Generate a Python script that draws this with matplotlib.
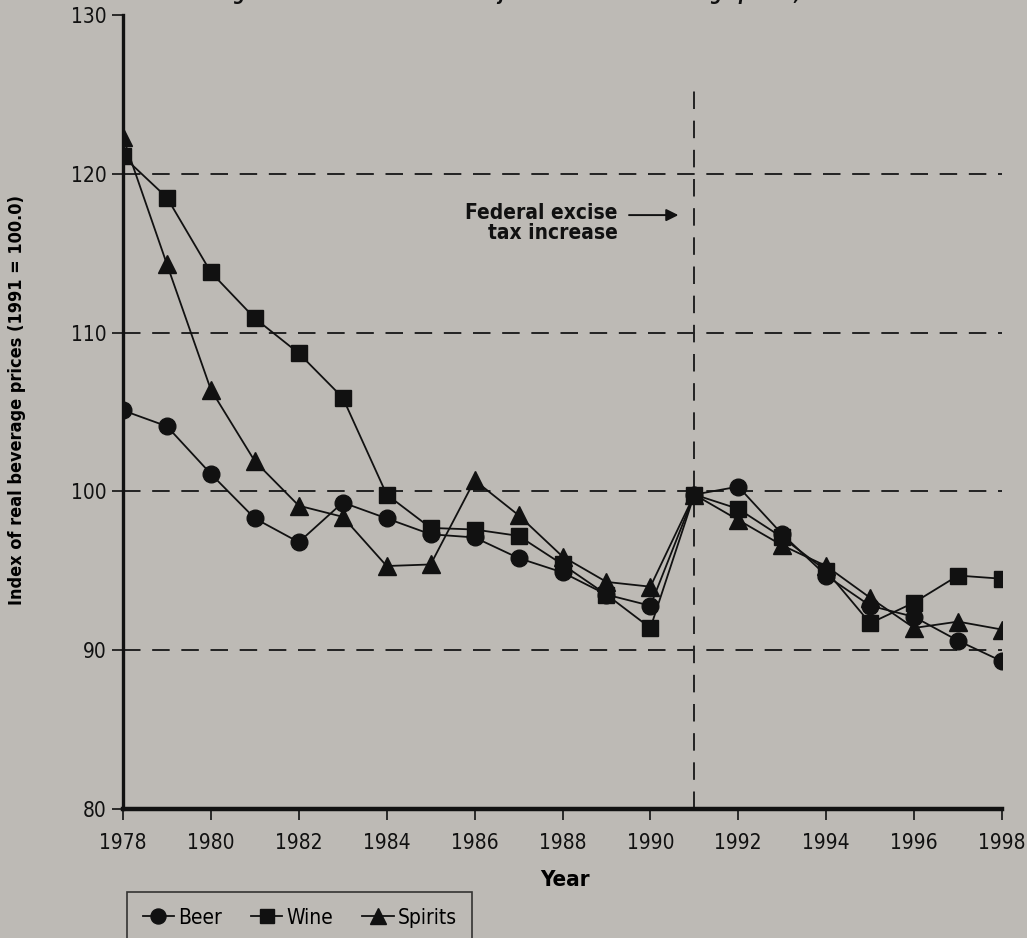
import numpy as np
import matplotlib.pyplot as plt

# condensed DejaVu is the narrowest face we have
plt.rcParams['font.family'] = ['DejaVu Sans']
plt.rcParams['font.stretch'] = 'condensed'

years = np.arange(1978, 1999)
beer = [105.1, 104.1, 101.1, 98.3, 96.8, 99.3, 98.3, 97.3, 97.1, 95.8, 94.9,
        93.5, 92.8, 99.8, 100.3, 97.3, 94.7, 92.8, 92.1, 90.6, 89.3]
wine = [121.1, 118.5, 113.8, 110.9, 108.7, 105.9, 99.8, 97.7, 97.6, 97.2, 95.4,
        93.5, 91.4, 99.8, 98.9, 97.1, 95.0, 91.7, 93.0, 94.7, 94.5]
spirits = [122.3, 114.3, 106.4, 101.9, 99.1, 98.4, 95.3, 95.4, 100.7, 98.5, 95.9,
           94.3, 94.0, 99.8, 98.2, 96.6, 95.3, 93.3, 91.4, 91.8, 91.3]
grid_levels = [90, 100, 110, 120]
tax_year = 1991

bg = '#bdbab5'
ink = '#111111'
fig = plt.figure(figsize=(10.27, 9.38), dpi=100, facecolor=bg)
ax = fig.add_axes([123/1027, 1 - 809/938, (1002 - 123)/1027, (809 - 15)/938])
ax.set_facecolor(bg)

# dashed reference lines
for g in grid_levels:
    ax.plot([1978, 1998], [g, g], color='#222222', lw=1.4, ls=(0, (9, 6)), zorder=1)
ax.plot([tax_year, tax_year], [80, 125.8], color='#222222', lw=1.4,
        ls=(0, (9, 6)), zorder=1, clip_on=False)

ax.plot(years, beer, color=ink, lw=1.3, marker='o', ms=12, label='Beer', zorder=3)
ax.plot(years, wine, color=ink, lw=1.3, marker='s', ms=11, label='Wine', zorder=3)
ax.plot(years, spirits, color=ink, lw=1.3, marker='^', ms=13, label='Spirits', zorder=3)

ax.set_xlim(1978, 1998)
ax.set_ylim(80, 130)
ax.set_xticks(np.arange(1978, 1999, 2))
ax.set_yticks([80, 90, 100, 110, 120, 130])
ax.tick_params(axis='both', labelsize=15, color=ink, labelcolor=ink)
ax.tick_params(axis='y', direction='out', length=8, width=1.2, pad=4)
ax.tick_params(axis='x', direction='out', length=8, width=1.2, pad=9)
for s in ['top', 'right']:
    ax.spines[s].set_visible(False)
ax.spines['left'].set_linewidth(2.4)
ax.spines['bottom'].set_linewidth(3.2)
for s in ['left', 'bottom']:
    ax.spines[s].set_color(ink)

ax.set_xlabel('Year', fontsize=16, fontweight='bold')
ax.xaxis.set_label_coords(0.503, -0.077)
ax.set_ylabel('Index of real beverage prices (1991 = 100.0)', fontsize=13,
              fontweight='bold')
ax.yaxis.set_label_coords(-0.110, 0.515)

ax.annotate('', xy=(1990.7, 117.4), xytext=(1989.45, 117.4),
            arrowprops=dict(arrowstyle='-|>', color=ink, lw=1.4, mutation_scale=18))
ax.text(1989.25, 116.9, 'Federal excise\ntax increase', ha='right', va='center',
        fontsize=15, fontweight='bold', linespacing=1.05, color=ink)

# title sits mostly above the crop, only the descenders show
fig.text(0.546, 1 + 0.5/938, 'Figure 3. Trends in inflation-adjusted alcoholic beverage prices, 1978\u20131998',
         ha='center', va='baseline', fontsize=13, fontweight='bold', style='italic', color=ink)

leg = ax.legend(loc='upper left', bbox_to_anchor=(127/1027, 1 - 892/938),
                bbox_transform=fig.transFigure, ncol=3, frameon=True, fontsize=15,
                handlelength=1.5, handletextpad=0.2, columnspacing=1.4,
                borderpad=0.75, borderaxespad=0, markerscale=0.9, fancybox=False)
leg.get_frame().set_edgecolor(ink)
leg.get_frame().set_facecolor('none')
leg.get_frame().set_linewidth(1.2)

fig.savefig('out.png', dpi=100, facecolor=bg)
